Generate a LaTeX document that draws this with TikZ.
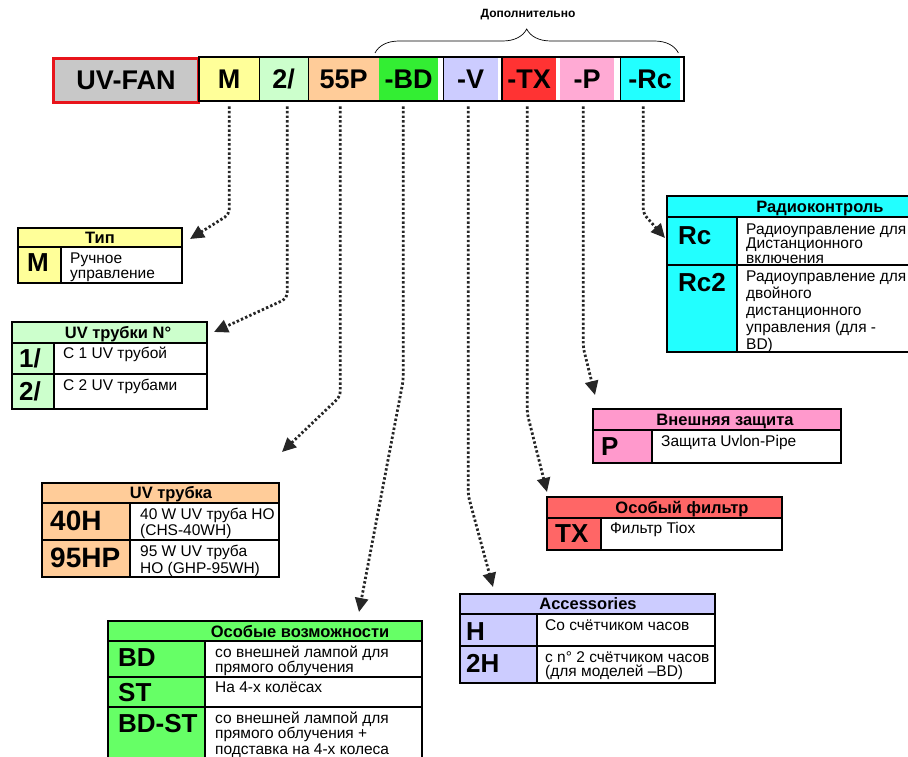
\documentclass[tikz,border=0pt]{standalone}
\usepackage{fontspec}
\setmainfont{Liberation Sans}
\usepackage{tikz}
\usetikzlibrary{arrows.meta,positioning,calc,decorations.pathreplacing}

\definecolor{barGray}{HTML}{C8C8C8}
\definecolor{frameRed}{HTML}{E8141B}
\definecolor{typY}{HTML}{FFFF99}
\definecolor{tubeG}{HTML}{CCFFCC}
\definecolor{lampO}{HTML}{FFCC99}
\definecolor{optG}{HTML}{33EE33}
\definecolor{featG}{HTML}{66FF66}
\definecolor{accV}{HTML}{CCCCFF}
\definecolor{optR}{HTML}{FF3333}
\definecolor{filtR}{HTML}{FF6666}
\definecolor{optP}{HTML}{FFAAD4}
\definecolor{protP}{HTML}{FF99CC}
\definecolor{radC}{HTML}{22FFFF}
\definecolor{linkGray}{HTML}{262626}

\begin{document}
\begin{tikzpicture}[x=1pt, y=-1pt,
  bar/.style={minimum height=44pt, inner sep=0pt, anchor=north west, font=\bfseries\fontsize{27}{30}\selectfont},
  frame/.style={draw=black, line width=1.6pt},
  hdr/.style={font=\bfseries\fontsize{16.5}{18}\selectfont, anchor=base, inner sep=0pt},
  key/.style={font=\bfseries\fontsize{26}{28}\selectfont, anchor=base west, inner sep=0pt},
  desc/.style={font=\fontsize{15.5}{15.5}\selectfont, align=left, anchor=base west, inner sep=0pt},
  link/.style={linkGray, line width=2.8pt, dash pattern=on 2.4pt off 2.2pt, rounded corners=5pt,
    shorten <=5pt, -{Triangle[length=14pt,width=13pt]}}]
  \useasboundingbox (0,0) rectangle (908,757);
  \clip (0,0) rectangle (908,757);

  % code bar
  \node[bar, fill=barGray, draw=frameRed, line width=3pt, minimum width=145pt] (cFan) at (52,57) {UV-FAN};
  \foreach \nm/\xx/\ww/\cc/\lbl in {cM/199/60/typY/M, c2/259/49/tubeG/{2/}, c55/308/71/lampO/55P,
      cBD/379/59/optG/-BD, cV/443/55/accV/-V, cTX/502/54/optR/-TX, cP/560/54/optP/-P, cRc/620/60/radC/-Rc} {
    \node[bar, fill=\cc, minimum width=\ww pt] (\nm) at (\xx,57) {\lbl};
  }
  \draw[line width=0.8pt] (cM.north east) -- (cM.south east) (c2.north east) -- (c2.south east)
    (cV.north west) -- (cV.south west) (cRc.north west) -- (cRc.south west);
  \draw[line width=1.6pt] (cTX.north west) -- (cTX.south west);
  \draw[line width=2pt] (cM.north west) rectangle ([xshift=4pt]cRc.south east);

  % optional part
  \draw[decorate, decoration={brace, amplitude=24pt}, line width=0.7pt]
    ([shift={(-4,-4)}]cBD.north west) -- ([shift={(-2,-4)}]cRc.north east);
  \node[font=\bfseries\fontsize{12}{14}\selectfont] (nOpt) at (528,15) {Дополнительно};

  % Тип
  \fill[typY] (18,228) rectangle (182,247) (18,247) rectangle (61,283);
  \draw[frame] (18,228) rectangle (182,283) (18,247) -- (182,247) (61,247) -- (61,283);
  \node[hdr] (hTyp) at (100,243) {Тип};
  \node[key] (kM) at (27,271) {M};
  \node[desc] (dM) at (70,278.5) {Ручное\\управление};

  % UV трубки
  \fill[tubeG] (12,322) rectangle (207,343) (12,343) rectangle (54,409);
  \draw[frame] (12,322) rectangle (207,409) (12,343) -- (207,343) (12,374) -- (207,374) (54,343) -- (54,409);
  \node[hdr] (hTubes) at (118,338) {UV трубки N°};
  \node[key] (k1) at (19,367) {1/};
  \node[desc] (d1) at (63,358) {С 1 UV трубой};
  \node[key] (k2) at (19,400) {2/};
  \node[desc] (d2) at (63,390) {С 2 UV трубами};

  % UV трубка
  \fill[lampO] (42,483) rectangle (279,503) (42,503) rectangle (130,577);
  \draw[frame] (42,483) rectangle (279,577) (42,503) -- (279,503) (42,540) -- (279,540) (130,503) -- (130,577);
  \node[hdr] (hLamp) at (171,498) {UV трубка};
  \node[key, font=\bfseries\fontsize{28}{30}\selectfont] (k40) at (50,530) {40H};
  \node[desc, font=\fontsize{15.5}{16.5}\selectfont] (d40) at (140,535.5) {40 W UV труба HO\\(CHS-40WH)};
  \node[key, font=\bfseries\fontsize{28}{30}\selectfont] (k95) at (50,567) {95HP};
  \node[desc, font=\fontsize{15.5}{16.5}\selectfont] (d95) at (140,573) {95 W UV труба\\HO (GHP-95WH)};

  % Особые возможности
  \fill[featG] (108,621) rectangle (422,641) (108,641) rectangle (205,770);
  \draw[frame] (108,621) rectangle (422,770) (108,641) -- (422,641) (108,677) -- (422,677) (108,707) -- (422,707) (205,641) -- (205,770);
  \node[hdr] (hFeat) at (300,637) {Особые возможности};
  \node[key] (kBD) at (118,666) {BD};
  \node[desc] (dBD) at (215,672.5) {со внешней лампой для\\прямого облучения};
  \node[key] (kST) at (118,701) {ST};
  \node[desc] (dST) at (215,692) {На 4-х колёсах};
  \node[key] (kBDST) at (118,732) {BD-ST};
  \node[desc] (dBDST) at (215,754) {со внешней лампой для\\прямого облучения +\\подставка на 4-х колеса};

  % Accessories
  \fill[accV] (460,594) rectangle (715,614) (460,614) rectangle (537,683);
  \draw[frame] (460,594) rectangle (715,683) (460,614) -- (715,614) (460,646) -- (715,646) (537,614) -- (537,683);
  \node[hdr] (hAcc) at (588,609) {Accessories};
  \node[key] (kH) at (466,640) {H};
  \node[desc] (dH) at (545,630) {Со счётчиком часов};
  \node[key] (k2H) at (466,672) {2H};
  \node[desc, font=\fontsize{15.5}{14}\selectfont] (d2H) at (545,676) {с n° 2 счётчиком часов\\(для моделей –BD)};

  % Особый фильтр
  \fill[filtR] (547,497) rectangle (782,518) (547,518) rectangle (601,550);
  \draw[frame] (547,497) rectangle (782,550) (547,518) -- (782,518) (601,518) -- (601,550);
  \node[hdr] (hFilt) at (682,513) {Особый фильтр};
  \node[key] (kTX) at (555,542) {TX};
  \node[desc] (dTX) at (610,533) {Фильтр Tiox};

  % Внешняя защита
  \fill[protP] (593,409) rectangle (841,430) (593,430) rectangle (652,463);
  \draw[frame] (593,409) rectangle (841,463) (593,430) -- (841,430) (652,430) -- (652,463);
  \node[hdr] (hProt) at (725,425) {Внешняя защита};
  \node[key] (kP) at (601,455) {P};
  \node[desc] (dP) at (661,446) {Защита Uvlon-Pipe};

  % Радиоконтроль
  \fill[radC] (667,196) rectangle (940,217) (667,217) rectangle (737,352);
  \draw[frame] (667,196) rectangle (940,352) (667,217) -- (940,217) (667,265) -- (940,265) (737,217) -- (737,352);
  \node[hdr] (hRad) at (820,212) {Радиоконтроль};
  \node[key] (kRc) at (678,244) {Rc};
  \node[desc, font=\fontsize{15.5}{14.5}\selectfont] (dRc) at (746,263) {Радиоуправление для\\Дистанционного\\включения};
  \node[key] (kRc2) at (678,291) {Rc2};
  \node[desc, font=\fontsize{15.5}{17}\selectfont] (dRc2) at (746,349) {Радиоуправление для\\двойного\\дистанционного\\управления (для -\\BD)};

  % arrow tips
  \coordinate (tTyp) at (190,239);
  \coordinate (tTubes) at (214,332);
  \coordinate (tLamp) at (282,452);
  \coordinate (tFeat) at (359,612);
  \coordinate (tAcc) at (493,587);
  \coordinate (tFilt) at (547,492);
  \coordinate (tProt) at (595,395);
  \coordinate (tRad) at (665,238);

  \draw[link] (cM.south) -- ++(0,113) -- (tTyp);
  \draw[link] ([xshift=3.5pt]c2.south) -- ++(0,197) -- (tTubes);
  \draw[link] ([xshift=-3.5pt]c55.south) -- ++(0,295) -- (tLamp);
  \draw[link] ([xshift=-5.5pt]cBD.south) -- ++(0,279) -- (tFeat);
  \draw[link] ([xshift=-2.5pt]cV.south) -- ++(0,394) -- (tAcc);
  \draw[link] ([xshift=-2pt]cTX.south) -- ++(0,312) -- (tFilt);
  \draw[link] ([xshift=-4pt]cP.south) -- ++(0,246) -- (tProt);
  \draw[link] ([xshift=-7pt]cRc.south) -- ++(0,112) -- (tRad);
\end{tikzpicture}
\end{document}
